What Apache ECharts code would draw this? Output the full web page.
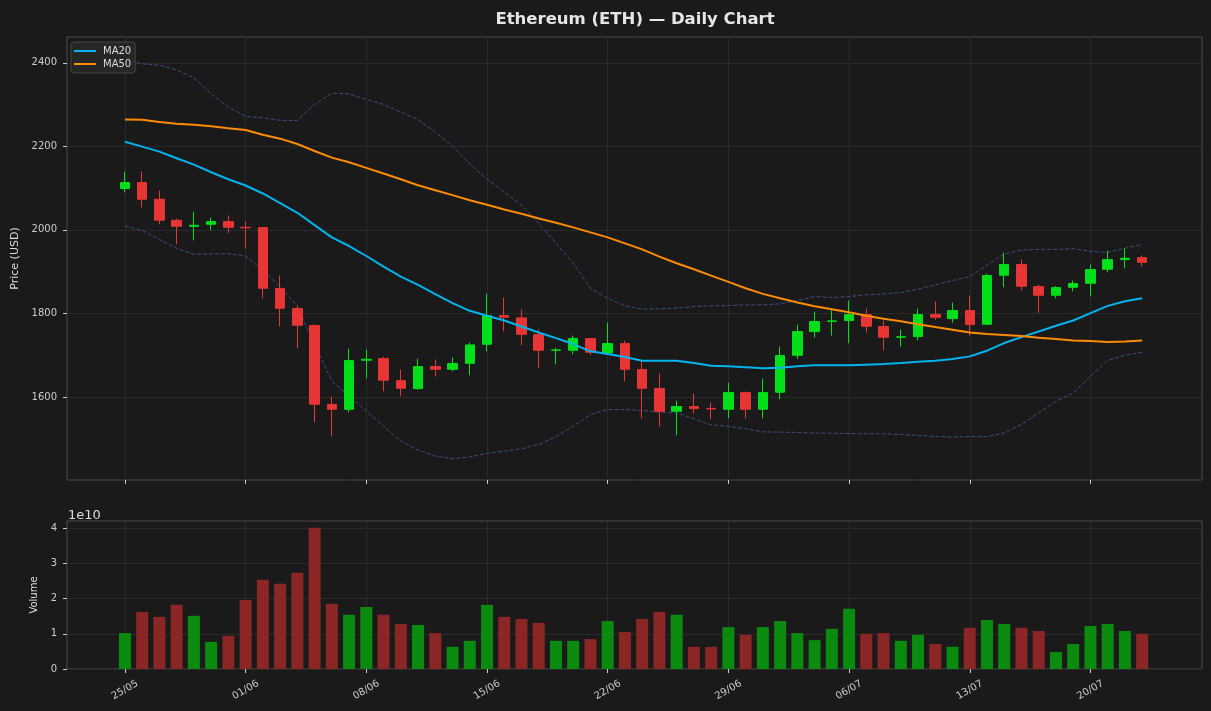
<!DOCTYPE html>
<html>
<head>
<meta charset="utf-8">
<script src="https://cdn.jsdelivr.net/npm/echarts@6/dist/echarts.min.js"></script>
<style>
html, body { margin: 0; padding: 0; background: #1a1a1a; }
#chart { width: 1211px; height: 711px; }
</style>
</head>
<body>
<div id="chart"></div>
<script>
// daily OHLC, 25/05 .. 23/07
var opens  = [2099, 2113.3, 2073.4, 2023.1, 2008.7, 2013.5, 2019.9, 2006.3, 2005.5, 1859.4,
              1811.5, 1770.8, 1581.6, 1570.4, 1688, 1691.8, 1639, 1619.9, 1672.6, 1666.2,
              1680.6, 1726.1, 1794.8, 1789.2, 1749.2, 1711.7, 1711.7, 1739.6, 1705.3, 1727.7,
              1665.4, 1619.9, 1565.6, 1576.8, 1572.5, 1570.4, 1610.3, 1570.4, 1611.1, 1699.7,
              1756.4, 1781, 1782.8, 1797.1, 1768.4, 1743, 1744.4, 1797.1, 1787.6, 1806.7,
              1774, 1891.4, 1916.9, 1864.2, 1843.5, 1862.6, 1872.2, 1905.7, 1929, 1933.7];
var closes = [2113.3, 2073.4, 2023.1, 2008.7, 2011, 2019.9, 2006.3, 2005, 1860.2, 1812.3,
              1771.6, 1582.4, 1570.4, 1687, 1690.2, 1639.9, 1620.7, 1672.6, 1666.2, 1679.8,
              1724.5, 1794.8, 1790.8, 1750, 1711.7, 1712.5, 1739.6, 1706.9, 1727.7, 1666.2,
              1620.7, 1565.6, 1576.8, 1572, 1571.2, 1610.3, 1570.4, 1610.3, 1698.9, 1756.4,
              1780.4, 1782, 1797.1, 1769.2, 1742.9, 1744, 1797.1, 1790.8, 1806.7, 1773.2,
              1890.6, 1916.9, 1865, 1843.5, 1861.8, 1871.4, 1904.9, 1928.9, 1932, 1922.5];
var lows   = [2090.2, 2054.2, 2013.5, 1965.6, 1975.2, 1999.1, 1992, 1955.2, 1836.3, 1769.2,
              1716.5, 1539.3, 1505.7, 1563.2, 1644.6, 1613.5, 1601.5, 1617.5, 1649.4, 1661.4,
              1651.8, 1709.3, 1757.2, 1723.7, 1668.6, 1678.2, 1702.1, 1699.7, 1703, 1637.5,
              1548.8, 1529.7, 1508.1, 1560, 1546.4, 1548.8, 1548.8, 1548.8, 1594.4, 1691.8,
              1742.1, 1746.8, 1728.5, 1754, 1710.9, 1720.5, 1734.9, 1785.2, 1778, 1746.8,
              1771.6, 1862.6, 1855.4, 1801.9, 1836.3, 1853, 1841.1, 1898.5, 1908.1, 1912.9];
var highs  = [2139.7, 2139.7, 2094.2, 2027, 2043.8, 2029.5, 2034.3, 2019.9, 2006, 1890.6,
              1818.7, 1774, 1600.7, 1715.7, 1713.3, 1696.5, 1665.4, 1691.8, 1689.4, 1694.2,
              1730.1, 1847.4, 1837.9, 1809.1, 1761.2, 1717.3, 1746.8, 1740, 1778, 1734.9,
              1685.4, 1655.8, 1591.2, 1607.9, 1586.4, 1634.3, 1612.7, 1643.9, 1720.5, 1773.2,
              1804.3, 1807.5, 1830.7, 1811.5, 1782.8, 1761.2, 1811.5, 1828.3, 1825.9, 1842.7,
              1895.3, 1945.6, 1928.9, 1869, 1865, 1878.6, 1916.9, 1950.4, 1956, 1938.5];

var ma20 = [2211.3, 2199.4, 2187.5, 2171.5, 2156.4, 2138.1, 2121.4, 2106.3, 2087.2, 2064.1,
            2041, 2011.5, 1982, 1961.4, 1937.5, 1912, 1888.2, 1868.3, 1846, 1824.5,
            1806.2, 1794.2, 1783.1, 1768.8, 1754.4, 1740.9, 1726.6, 1709.1, 1702.7, 1695.5,
            1686.8, 1686.8, 1686.8, 1681.2, 1674.8, 1673.2, 1670.8, 1668.5, 1670, 1673.2,
            1675.6, 1675.6, 1675.6, 1677.2, 1678.8, 1681.2, 1684.4, 1686.8, 1690.8, 1697.1,
            1710.7, 1729, 1743.3, 1756.8, 1770.4, 1783.1, 1800.6, 1818.1, 1829.3, 1836.4];
var ma50 = [2264.7, 2263.9, 2258.3, 2254.3, 2251.9, 2248, 2243.2, 2239.2, 2228, 2218.5,
            2205.8, 2189, 2173.1, 2162, 2148.5, 2134.9, 2121.4, 2107.1, 2095.1, 2083.2,
            2071.2, 2060.1, 2048.9, 2038.6, 2027.5, 2017.1, 2006, 1994, 1982.1, 1967.8,
            1953.4, 1935.9, 1920, 1905.7, 1890.6, 1875.4, 1860.3, 1846.8, 1836.4, 1826.1,
            1817.3, 1810.2, 1803, 1794.2, 1787, 1781, 1774, 1767.2, 1760.8, 1754.4,
            1750.5, 1748.1, 1745.7, 1741.7, 1738.5, 1735.3, 1733.7, 1731.3, 1732.9, 1735.3];
var bbUpper = [2407.2, 2397.6, 2394.4, 2383.3, 2364.2, 2326, 2294, 2271.8, 2268.6, 2262.3,
               2262.3, 2300.5, 2327.6, 2326, 2312.4, 2300.5, 2282.2, 2263.9, 2234.4, 2200.2,
               2158.8, 2121.4, 2091.1, 2059.3, 2015.5, 1967.8, 1920, 1860.3, 1836.4, 1818.1,
               1810.2, 1811, 1812.5, 1816.5, 1818.1, 1818.9, 1820.5, 1820.5, 1822.9, 1830.8,
               1840.4, 1838, 1840.4, 1844.4, 1846.8, 1850, 1857.9, 1868.3, 1878.6, 1888.2,
               1916, 1942.3, 1951.8, 1953.4, 1953.4, 1955, 1948.7, 1946.3, 1955.8, 1965.4];
var bbLower = [2009.2, 1998.8, 1977.3, 1955.8, 1941.5, 1942.3, 1943.1, 1937.5, 1904, 1864.3,
               1816.5, 1725, 1637.4, 1601.6, 1565.8, 1530, 1494.2, 1472.6, 1458.3, 1452,
               1456, 1464.7, 1470.3, 1475.8, 1486.2, 1504.5, 1530, 1557.8, 1569.8, 1569.8,
               1567.4, 1563.4, 1561.8, 1547.5, 1533.1, 1530, 1523.6, 1516.4, 1515.6, 1514.8,
               1513.2, 1513.2, 1512.4, 1511.7, 1511.7, 1510.1, 1507.7, 1505.3, 1503.7, 1505.3,
               1504.5, 1514, 1533.9, 1561.8, 1589.7, 1609.6, 1649.4, 1687.6, 1699.5, 1706.7];

var volumes = [1.02e10, 1.62e10, 1.48e10, 1.82e10, 1.51e10, 0.77e10, 0.94e10, 1.96e10, 2.53e10, 2.42e10,
               2.73e10, 4.01e10, 1.85e10, 1.54e10, 1.76e10, 1.54e10, 1.28e10, 1.25e10, 1.02e10, 0.63e10,
               0.80e10, 1.82e10, 1.48e10, 1.42e10, 1.31e10, 0.80e10, 0.80e10, 0.85e10, 1.36e10, 1.05e10,
               1.42e10, 1.62e10, 1.54e10, 0.63e10, 0.63e10, 1.19e10, 0.97e10, 1.19e10, 1.36e10, 1.02e10,
               0.82e10, 1.14e10, 1.71e10, 1.00e10, 1.02e10, 0.80e10, 0.97e10, 0.71e10, 0.63e10, 1.17e10,
               1.39e10, 1.28e10, 1.17e10, 1.08e10, 0.48e10, 0.71e10, 1.22e10, 1.28e10, 1.08e10, 1.00e10];

var tickDays = [0, 7, 14, 21, 28, 35, 42, 49, 56];
var tickLabels = ['25/05', '01/06', '08/06', '15/06', '22/06', '29/06', '06/07', '13/07', '20/07'];
var priceTicks = [1600, 1800, 2000, 2200, 2400];
var volTicks = [0, 1e10, 2e10, 3e10, 4e10];

var UP = '#00e01a', DOWN = '#e83535';
var VOL_UP = '#0b8a10', VOL_DOWN = '#8b2626';
var FONT = 'DejaVu Sans';

var chart = echarts.init(document.getElementById('chart'));

function pairs(arr) {
    return arr.map(function (v, i) { return [i, v]; });
}
var candleData = opens.map(function (o, i) { return [i, o, closes[i], lows[i], highs[i]]; });
var bandData = bbUpper.map(function (u, i) { return [i, u - bbLower[i]]; });
var volData = volumes.map(function (v, i) {
    return { value: [i, v], itemStyle: { color: closes[i] >= opens[i] ? VOL_UP : VOL_DOWN } };
});

function xAxisCfg(idx, showLabels) {
    return {
        type: 'value', gridIndex: idx, min: -3.36, max: 62.47,
        axisLine: { show: false, onZero: false },
        axisTick: { show: true, customValues: tickDays, length: 4, lineStyle: { color: '#cccccc' } },
        axisLabel: {
            show: showLabels, customValues: tickDays, rotate: 30, align: 'center', verticalAlign: 'middle',
            margin: 21, fontSize: 10, color: '#cccccc', fontFamily: FONT,
            formatter: function (v) { return tickLabels[tickDays.indexOf(Math.round(v))] || ''; }
        },
        splitLine: { show: true, lineStyle: { color: '#2a2a2a', width: 1 } }
    };
}

var option = {
    backgroundColor: '#1a1a1a',
    animation: false,
    title: [
        { text: 'Ethereum (ETH) \u2014 Daily Chart', left: 630, top: 6, textAlign: 'center',
          textStyle: { color: '#e6e6e6', fontSize: 16.5, fontWeight: 'bold', fontFamily: FONT } },
        { text: '1e10', left: 63, top: 504,
          textStyle: { color: '#dddddd', fontSize: 13, fontWeight: 'normal', fontFamily: FONT } }
    ],
    legend: {
        data: ['MA20', 'MA50'], orient: 'vertical', left: 71, top: 42,
        icon: 'rect', itemWidth: 22, itemHeight: 2, itemGap: 3,
        backgroundColor: '#262626', borderColor: '#444444', borderWidth: 1, borderRadius: 3,
        padding: [4, 4, 4, 3],
        textStyle: { color: '#dddddd', fontSize: 10, fontFamily: FONT, padding: [0, 0, 0, 2] }
    },
    grid: [
        { left: 67, top: 37, right: 9, height: 443, show: true, outerBoundsMode: 'none', containLabel: false,
          borderColor: '#4a4a4a', borderWidth: 1, backgroundColor: '#1a1a1a' },
        { left: 67, top: 521, right: 9, height: 148, show: true, outerBoundsMode: 'none', containLabel: false,
          borderColor: '#4a4a4a', borderWidth: 1, backgroundColor: '#1a1a1a' }
    ],
    xAxis: [xAxisCfg(0, false), xAxisCfg(1, true)],
    yAxis: [
        {
            type: 'value', gridIndex: 0, min: 1401, max: 2462,
            name: 'Price (USD)', nameLocation: 'middle', nameGap: 46,
            nameTextStyle: { color: '#dddddd', fontSize: 11, fontFamily: FONT },
            axisLine: { show: false, onZero: false },
            axisTick: { show: true, customValues: priceTicks, length: 4, lineStyle: { color: '#cccccc' } },
            axisLabel: { customValues: priceTicks, fontSize: 10, color: '#cccccc', margin: 10, fontFamily: FONT,
                formatter: function (v) { return String(v); } },
            splitLine: { show: true, lineStyle: { color: '#2a2a2a' } }
        },
        {
            type: 'value', gridIndex: 1, min: 0, max: 4.2e10,
            name: 'Volume', nameLocation: 'middle', nameGap: 20,
            nameTextStyle: { color: '#dddddd', fontSize: 10, fontFamily: FONT },
            axisLine: { show: false, onZero: false },
            axisTick: { show: true, customValues: volTicks, length: 4, lineStyle: { color: '#cccccc' } },
            axisLabel: { customValues: volTicks, fontSize: 10, color: '#cccccc', margin: 10, fontFamily: FONT,
                formatter: function (v) { return String(Math.round(v / 1e10)); } },
            splitLine: { show: true, lineStyle: { color: '#2a2a2a' } }
        }
    ],
    series: [
        { name: 'bbBase', type: 'line', stack: 'bb', data: pairs(bbLower), symbol: 'none',
          lineStyle: { opacity: 0 }, silent: true, z: 1 },
        { name: 'bbBand', type: 'line', stack: 'bb', data: bandData, symbol: 'none',
          lineStyle: { opacity: 0 }, areaStyle: { color: '#1e2029', opacity: 1 }, silent: true, z: 1 },
        { name: 'bbUpper', type: 'line', data: pairs(bbUpper), symbol: 'none',
          lineStyle: { color: '#3e4c80', width: 1, type: [4, 2] }, z: 2 },
        { name: 'bbLower', type: 'line', data: pairs(bbLower), symbol: 'none',
          lineStyle: { color: '#3e4c80', width: 1, type: [4, 2] }, z: 2 },
        { name: 'OHLC', type: 'candlestick', data: candleData, encode: { x: 0, y: [1, 2, 3, 4] },
          barWidth: 10,
          itemStyle: { color: UP, color0: DOWN, borderColor: UP, borderColor0: DOWN, borderWidth: 1 }, z: 3 },
        { name: 'MA20', type: 'line', data: pairs(ma20), symbol: 'none', color: '#00b4f0',
          lineStyle: { color: '#00b4f0', width: 2 }, z: 4 },
        { name: 'MA50', type: 'line', data: pairs(ma50), symbol: 'none', color: '#ff8c00',
          lineStyle: { color: '#ff8c00', width: 2 }, z: 4 },
        { name: 'Volume', type: 'bar', xAxisIndex: 1, yAxisIndex: 1, data: volData, barWidth: 12 }
    ]
};

chart.setOption(option);
window.onresize = chart.resize;
</script>
</body>
</html>
